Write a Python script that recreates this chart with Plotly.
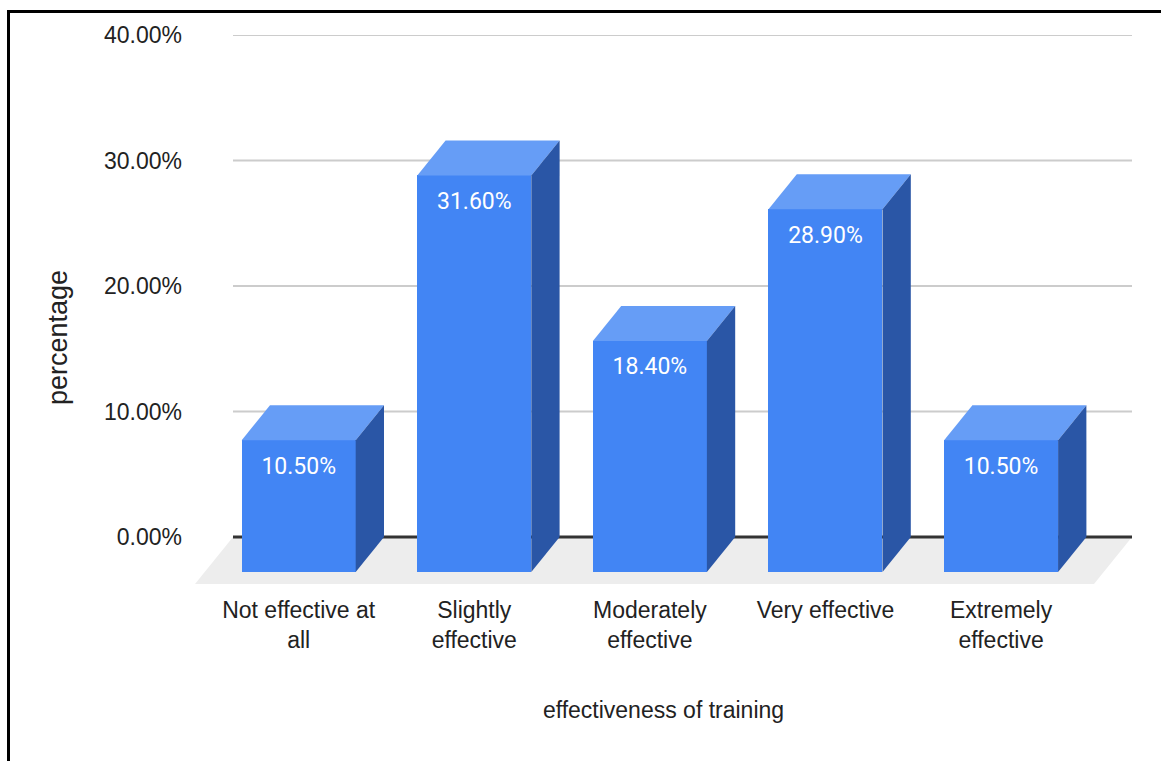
import plotly.graph_objects as go

# Survey results: perceived effectiveness of training
categories = ["Not effective at<br>all", "Slightly<br>effective", "Moderately<br>effective",
              "Very effective", "Extremely<br>effective"]
values = [10.5, 31.6, 18.4, 28.9, 10.5]
y_ticks = [0, 10, 20, 30, 40]
y_tick_labels = ["0.00%", "10.00%", "20.00%", "30.00%", "40.00%"]

# 3D look: depth offsets (x in category units, y in axis units)
HALF_W = 0.3246          # half width of a bar's front face
DEPTH_X = 0.1612         # horizontal shift from front to back
DEPTH_Y = 2.787          # vertical shift from front to back
FLOOR_Y = 3.742          # depth of the floor plane
X_MIN, X_MAX = -0.5905, 4.7455
BACK_LEFT = X_MIN + 0.2164

FRONT = "#4285F4"
TOP = "#669DF6"
SIDE = "#2A56A6"

# plot-area geometry in pixels (used for the frame and title placement)
W, H = 1161, 761
ML, MR, MT, MB = 195, 29, 35, 177
PW, PH = W - ML - MR, H - MT - MB


def xp(px):
    return (px - ML) / PW


def yp(py):
    return (H - MB - py) / PH


xs = list(range(len(values)))

fig = go.Figure()

# front faces of the bars
fig.add_trace(go.Bar(
    x=xs, y=values, base=[-DEPTH_Y] * len(values), width=2 * HALF_W,
    marker=dict(color=FRONT, line=dict(width=0)), hoverinfo="skip", showlegend=False,
))

# top and side faces
for x, v in zip(xs, values):
    fl, fr = x - HALF_W, x + HALF_W
    ftop = v - DEPTH_Y
    fig.add_trace(go.Scatter(
        x=[fl, fr, fr + DEPTH_X, fl + DEPTH_X, fl],
        y=[ftop, ftop, v, v, ftop],
        fill="toself", fillcolor=TOP, mode="lines", line=dict(width=0, color=TOP),
        hoverinfo="skip", showlegend=False,
    ))
    fig.add_trace(go.Scatter(
        x=[fr, fr + DEPTH_X, fr + DEPTH_X, fr, fr],
        y=[-DEPTH_Y, 0, v, ftop, -DEPTH_Y],
        fill="toself", fillcolor=SIDE, mode="lines", line=dict(width=0, color=SIDE),
        hoverinfo="skip", showlegend=False,
    ))

# value labels on the front faces
fig.add_trace(go.Scatter(
    x=xs, y=[v - DEPTH_Y - 2.2 for v in values],
    text=[f"{v:.2f}%" for v in values], mode="text", textposition="middle center",
    textfont=dict(family="Roboto", size=23, color="white"),
    hoverinfo="skip", showlegend=False,
))

shapes = []
# floor plane
shapes.append(dict(
    type="path", xref="x", yref="y", layer="below",
    path=(f"M {BACK_LEFT},0 L {X_MAX},0 L {X_MAX - (BACK_LEFT - X_MIN)},{-FLOOR_Y} "
          f"L {X_MIN},{-FLOOR_Y} Z"),
    fillcolor="#EDEDED", line=dict(width=0),
))
# gridlines on the back wall
for t in y_ticks:
    if t == 0:
        continue
    shapes.append(dict(type="line", xref="x", yref="y", layer="below",
                       x0=BACK_LEFT, x1=X_MAX, y0=t, y1=t,
                       line=dict(color="#CCCCCC", width=2)))
shapes.append(dict(type="line", xref="x", yref="y", layer="below",
                   x0=BACK_LEFT, x1=X_MAX, y0=0, y1=0,
                   line=dict(color="#333333", width=3)))
# chart frame
shapes.append(dict(
    type="path", xref="paper", yref="paper",
    path=f"M {xp(8.5)},{yp(775)} L {xp(8.5)},{yp(11.5)} L {xp(1175)},{yp(11.5)}",
    line=dict(color="black", width=3),
))

annotations = [dict(
    text="percentage", xref="paper", yref="paper", x=xp(58), y=yp(338),
    xanchor="center", yanchor="middle", textangle=-90, showarrow=False,
    font=dict(family="Liberation Sans, Arial", size=27, color="#222222"),
)]

fig.update_layout(
    width=W, height=H,
    margin=dict(l=ML, r=MR, t=MT, b=MB, autoexpand=False),
    paper_bgcolor="white", plot_bgcolor="rgba(0,0,0,0)",
    font=dict(family="Liberation Sans, Arial", size=23, color="#222222"),
    shapes=shapes,
    annotations=annotations,
    bargap=0,
    xaxis=dict(
        range=[X_MIN, X_MAX], tickvals=xs, ticktext=categories,
        showgrid=False, zeroline=False, showline=False, ticks="",
        ticklabelstandoff=10,
        title=dict(text="effectiveness of training", standoff=49,
                   font=dict(size=23, color="#222222")),
        fixedrange=True,
    ),
    yaxis=dict(
        range=[-FLOOR_Y, 40], tickvals=y_ticks, ticktext=y_tick_labels,
        showgrid=False, zeroline=False, showline=False, ticks="",
        ticklabelstandoff=12,
        fixedrange=True,
    ),
)

fig.write_html("out.html")
